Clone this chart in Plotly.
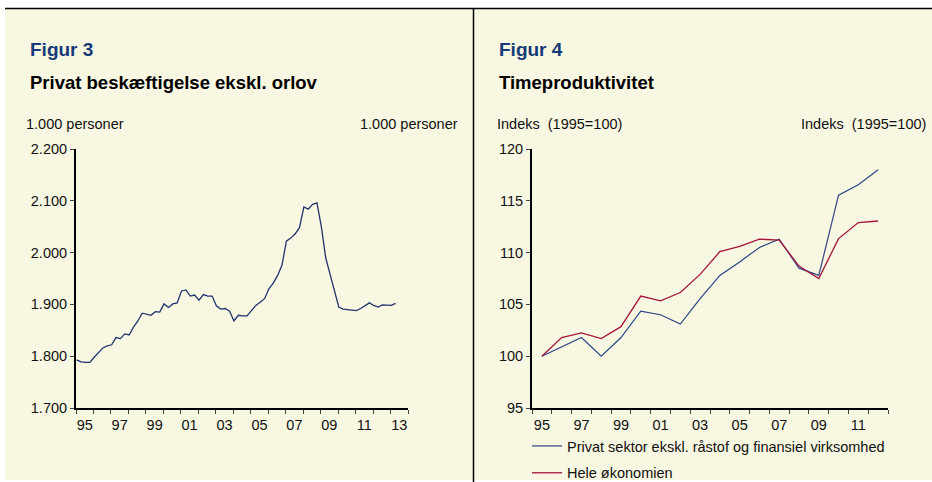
import plotly.graph_objects as go

# Figur 3: private employment excl. leave, 1.000 persons, quarterly 1995K1-2013K2
quarters = [f"{y}K{q}" for y in range(1995, 2014) for q in range(1, 5)][:74]
employment = [
    1793, 1789, 1788, 1788, 1798, 1808, 1816, 1820, 1822, 1836,
    1834, 1843, 1841, 1856, 1868, 1883, 1881, 1879, 1886, 1885,
    1901, 1894, 1901, 1903, 1926, 1928, 1916, 1918, 1908, 1919,
    1916, 1916, 1897, 1891, 1892, 1887, 1868, 1879, 1878, 1878,
    1888, 1898, 1904, 1911, 1930, 1941, 1956, 1976, 2022, 2028,
    2036, 2048, 2088, 2084, 2093, 2096, 2050, 1990, 1958, 1928,
    1895, 1891, 1890, 1889, 1888, 1892, 1898, 1903, 1898, 1895,
    1899, 1898, 1898, 1902,
]
emp_ticks = [1700, 1800, 1900, 2000, 2100, 2200]
emp_ticktext = ["1.700", "1.800", "1.900", "2.000", "2.100", "2.200"]
year_labels3 = ["95", "97", "99", "01", "03", "05", "07", "09", "11", "13"]

# Figur 4: hourly productivity, index 1995=100
years = list(range(1995, 2013))
privat = [100.0, 100.9, 101.8, 100.0, 101.8, 104.35, 104.0, 103.1, 105.55, 107.8,
          109.1, 110.5, 111.3, 108.5, 107.8, 115.55, 116.55, 118.0]
hele = [100.0, 101.8, 102.25, 101.7, 102.85, 105.8, 105.35, 106.15, 107.9, 110.1,
        110.6, 111.3, 111.2, 108.7, 107.5, 111.35, 112.9, 113.05]
prod_ticks = [95, 100, 105, 110, 115, 120]
year_labels4 = ["95", "97", "99", "01", "03", "05", "07", "09", "11"]

W, H = 932, 482
CREAM = "#F8F7E1"
FONT = "Arial, Liberation Sans, sans-serif"
INK = "#111111"


def px_x(v):
    return v / W


def px_y(v):
    return 1 - v / H


emp_x = [int(q[:4]) + (int(q[-1]) - 1) / 4 + 0.04 for q in quarters]

fig = go.Figure()
fig.add_trace(go.Scatter(x=emp_x, y=employment, mode="lines", showlegend=False,
                         line=dict(color="#22336F", width=1.3),
                         xaxis="x", yaxis="y"))
fig.add_trace(go.Scatter(x=years, y=privat, mode="lines",
                         name="Privat sektor ekskl. råstof og finansiel virksomhed",
                         legendgroup="a",
                         line=dict(color="#2E4585", width=1.2),
                         xaxis="x2", yaxis="y3"))
fig.add_trace(go.Scatter(x=years, y=hele, mode="lines", name="Hele økonomien",
                         legendgroup="b",
                         line=dict(color="#A3143A", width=1.3),
                         xaxis="x2", yaxis="y3"))

dom_y = [px_y(408), px_y(149)]
tickfont = dict(family=FONT, size=14.5, color=INK)

yax = dict(range=[1700, 2200], tickvals=emp_ticks, ticktext=emp_ticktext,
           showgrid=False, zeroline=False, ticks="outside", ticklen=4,
           tickcolor="#444", tickfont=tickfont, domain=dom_y)
prod_ax = dict(range=[95, 120], tickvals=prod_ticks,
               showgrid=False, zeroline=False, ticks="outside", ticklen=4,
               tickcolor="#444", tickfont=tickfont, domain=dom_y)

fig.update_layout(
    width=W, height=H,
    margin=dict(l=0, r=0, t=0, b=0, autoexpand=False),
    paper_bgcolor="white",
    plot_bgcolor="rgba(0,0,0,0)",
    font=dict(family=FONT, size=14, color=INK),
    xaxis=dict(domain=[px_x(76), px_x(408)], range=[1995, 2014],
               tickvals=[1995.5 + 2 * i for i in range(len(year_labels3))],
               ticktext=year_labels3, ticks="", ticklabelstandoff=3,
               showline=True, linecolor="black", linewidth=1.5,
               showgrid=False, zeroline=False, tickfont=tickfont, anchor="y",
               minor=dict(tick0=1995, dtick=1, ticks="outside", ticklen=4,
                          tickcolor="#444")),
    yaxis=dict(**yax, anchor="x", side="left", showline=True,
               linecolor="black", linewidth=2),
    yaxis2=dict(**yax, anchor="x", overlaying="y", side="right",
                showline=True, linecolor="black", linewidth=1),
    xaxis2=dict(domain=[px_x(532), px_x(888)], range=[1994.5, 2012.5],
                tickvals=[1995 + 2 * i for i in range(len(year_labels4))],
                ticktext=year_labels4, ticks="", ticklabelstandoff=3,
                showline=True, linecolor="black", linewidth=2,
                showgrid=False, zeroline=False, tickfont=tickfont, anchor="y3",
                minor=dict(tick0=1994.5, dtick=1, ticks="outside", ticklen=4,
                           tickcolor="#444")),
    yaxis3=dict(**prod_ax, anchor="x2", side="left", showline=True,
                linecolor="black", linewidth=2),
    yaxis4=dict(**prod_ax, anchor="x2", overlaying="y3", side="right",
                showline=True, linecolor="black", linewidth=1),
    showlegend=True,
    legend=dict(x=px_x(527), y=px_y(430), xanchor="left", yanchor="top",
                bgcolor="rgba(0,0,0,0)", font=dict(family=FONT, size=14.5, color=INK),
                tracegroupgap=5, traceorder="grouped", itemwidth=30),
)

# background panel and frame lines
fig.add_shape(type="rect", xref="paper", yref="paper", x0=px_x(5), x1=1,
              y0=px_y(480), y1=px_y(8), fillcolor=CREAM, line_width=0, layer="below")
fig.add_shape(type="line", xref="paper", yref="paper", x0=px_x(5), x1=1,
              y0=px_y(8.5), y1=px_y(8.5), line=dict(color="black", width=1.5))
fig.add_shape(type="line", xref="paper", yref="paper", x0=px_x(473.5), x1=px_x(473.5),
              y0=0, y1=px_y(8.5), line=dict(color="black", width=1.5))

texts = [
    (28, 50, "<b>Figur 3</b>", 19, "#163A78", "left"),
    (28, 82, "<b>Privat beskæftigelse ekskl. orlov</b>", 18.5, "black", "left"),
    (24, 124, "1.000 personer", 14.5, INK, "left"),
    (460, 124, "1.000 personer", 14.5, INK, "right"),
    (497, 50, "<b>Figur 4</b>", 19, "#163A78", "left"),
    (497, 82, "<b>Timeproduktivitet</b>", 18.5, "black", "left"),
    (495, 124, "Indeks\u00a0 (1995=100)", 14.5, INK, "left"),
    (928, 124, "Indeks\u00a0 (1995=100)", 14.5, INK, "right"),
]
for x, y, t, s, c, anc in texts:
    fig.add_annotation(xref="paper", yref="paper", x=px_x(x), y=px_y(y), text=t,
                       showarrow=False, xanchor=anc, yanchor="middle",
                       font=dict(family=FONT, size=s, color=c))

# the page body has a default 8px margin; drop it so the figure fills the window
fig.write_html("out.html", config={"displayModeBar": False},
               post_script="document.body.style.margin='0';")
